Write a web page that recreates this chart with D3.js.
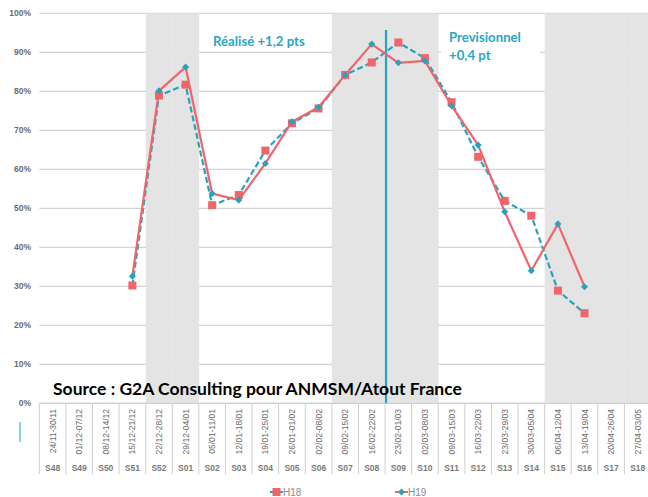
<!DOCTYPE html>
<html>
<head>
<meta charset="utf-8">
<script src="https://cdn.jsdelivr.net/npm/d3@7/dist/d3.min.js"></script>
<style>
  body { margin: 0; background: #fff; }
  svg { display: block; }
</style>
</head>
<body>
<div id="chart"></div>
<script>
var weeks = ["S48","S49","S50","S51","S52","S01","S02","S03","S04","S05","S06","S07","S08","S09","S10","S11","S12","S13","S14","S15","S16","S17","S18"]
var dates = ["24/11-30/11","01/12-07/12","08/12-14/12","15/12-21/12","22/12-28/12","29/12-04/01","05/01-11/01","12/01-18/01","19/01-25/01","26/01-01/02","02/02-08/02","09/02-15/02","16/02-22/02","23/02-01/03","02/03-08/03","09/03-15/03","16/03-22/03","23/03-29/03","30/03-05/04","06/04-12/04","13/04-19/04","20/04-26/04","27/04-03/05"]
var h18 = [null,null,null,0.302,0.789,0.817,0.508,0.534,0.648,0.718,0.756,0.842,0.874,0.925,0.885,0.772,0.632,0.519,0.481,0.289,0.231,null,null]
var h19 = [null,null,null,0.326,0.801,0.862,0.538,0.521,0.615,0.722,0.759,0.842,0.921,0.873,0.878,0.763,0.662,0.491,0.340,0.460,0.299,null,null]
var shaded = ["S52","S01","S07","S08","S09","S10","S15","S16","S17","S18"]
var yTicks = [0,0.1,0.2,0.3,0.4,0.5,0.6,0.7,0.8,0.9,1]

var width = 648, height = 497;
var red = "#f0646c", teal = "#27a3bd";

var svg = d3.select("#chart").append("svg")
  .attr("width", width)
  .attr("height", height);

var x = d3.scaleBand()
  .domain(weeks)
  .range([39.3, 651])
  .padding(0);

var y = d3.scaleLinear()
  .domain([0, 1])
  .range([403.3, 13.3]);

// horizontal gridlines
svg.append("g")
  .selectAll("line")
  .data(yTicks)
  .enter().append("line")
  .attr("x1", 39.3)
  .attr("x2", 651)
  .attr("y1", d => y(d))
  .attr("y2", d => y(d))
  .attr("stroke", "#d3d3d3")
  .attr("stroke-width", 1.2);

// grey week bands (drawn over the grid, like the excel columns)
svg.append("g")
  .selectAll("rect")
  .data(shaded)
  .enter().append("rect")
  .attr("x", d => x(d))
  .attr("y", y(1))
  .attr("width", x.bandwidth() + 0.3)
  .attr("height", y(0) - y(1))
  .attr("fill", "#e4e4e4");

// y axis labels
svg.append("g")
  .selectAll("text")
  .data(yTicks)
  .enter().append("text")
  .attr("x", 31)
  .attr("y", d => y(d) + 3)
  .attr("text-anchor", "end")
  .style("font-family", "Liberation Sans, Arial, sans-serif")
  .style("font-size", "8.5px")
  .style("font-weight", "bold")
  .style("fill", "#6b6b6b")
  .text(d => Math.round(d * 100) + "%");

// category separators (two level axis)
var bounds = weeks.map(d => x(d)).concat([x.range()[1]]);
svg.append("g")
  .selectAll("line")
  .data(bounds)
  .enter().append("line")
  .attr("x1", d => d)
  .attr("x2", d => d)
  .attr("y1", y(0))
  .attr("y2", 474)
  .attr("stroke", "#cfcfcf")
  .attr("stroke-width", 1);

svg.append("line")
  .attr("x1", 39.3).attr("x2", 651)
  .attr("y1", y(0)).attr("y2", y(0))
  .attr("stroke", "#cfcfcf");

svg.append("g")
  .selectAll("text")
  .data(weeks)
  .enter().append("text")
  .attr("transform", (d, i) => "translate(" + (x(d) + x.bandwidth() / 2 + 3) + ",409) rotate(-90)")
  .attr("text-anchor", "end")
  .style("font-family", "Liberation Sans, Arial, sans-serif")
  .style("font-size", "8.5px")
  .style("fill", "#6b6b6b")
  .text((d, i) => dates[i]);

svg.append("g")
  .selectAll("text")
  .data(weeks)
  .enter().append("text")
  .attr("x", d => x(d) + x.bandwidth() / 2)
  .attr("y", 471)
  .attr("text-anchor", "middle")
  .style("font-family", "Liberation Sans, Arial, sans-serif")
  .style("font-size", "8.5px")
  .style("font-weight", "bold")
  .style("fill", "#7a7a7a")
  .text(d => d);

// vertical separator realise / previsionnel
svg.append("line")
  .attr("x1", x("S09") + 1).attr("x2", x("S09") + 1)
  .attr("y1", 30).attr("y2", y(0))
  .attr("stroke", teal)
  .attr("stroke-width", 2.2);

svg.append("line")
  .attr("x1", 20).attr("x2", 20)
  .attr("y1", 422).attr("y2", 442)
  .attr("stroke", "#8fd0de")
  .attr("stroke-width", 2);

// annotation texts
svg.append("rect")
  .attr("x", 441).attr("y", 26)
  .attr("width", 99).attr("height", 40)
  .attr("fill", "#fff");

var ann = svg.append("g")
  .style("font-family", "Lato, sans-serif")
  .style("font-weight", "bold")
  .style("font-size", "13.2px")
  .style("fill", "#2aa6bf");
ann.append("text").attr("x", 213).attr("y", 46).text("Réalisé +1,2 pts");
ann.append("text").attr("x", 449).attr("y", 42).text("Previsionnel");
ann.append("text").attr("x", 449).attr("y", 60).text("+0,4 pt");

svg.append("text")
  .attr("x", 53)
  .attr("y", 395)
  .style("font-family", "Lato, sans-serif")
  .style("font-weight", "bold")
  .style("font-size", "17.5px")
  .style("fill", "#000")
  .text("Source : G2A Consulting pour ANMSM/Atout France");

// series
var cx = (d, i) => x(weeks[i]) + x.bandwidth() / 2;

var line = d3.line()
  .defined(d => d != null)
  .x(cx)
  .y(d => y(d));

svg.append("path")
  .datum(h18)
  .attr("d", line)
  .attr("fill", "none")
  .attr("stroke", teal)
  .attr("stroke-width", 2.2)
  .attr("stroke-dasharray", "6,3");

svg.append("g")
  .selectAll("rect")
  .data(h18.map((v, i) => ({v: v, i: i})).filter(d => d.v != null))
  .enter().append("rect")
  .attr("x", d => cx(d.v, d.i) - 4)
  .attr("y", d => y(d.v) - 4)
  .attr("width", 8)
  .attr("height", 8)
  .attr("fill", red);

svg.append("path")
  .datum(h19)
  .attr("d", line)
  .attr("fill", "none")
  .attr("stroke", red)
  .attr("stroke-width", 2.2);

var diamond = d3.symbol().type(d3.symbolDiamond2).size(32);
svg.append("g")
  .selectAll("path")
  .data(h19.map((v, i) => ({v: v, i: i})).filter(d => d.v != null))
  .enter().append("path")
  .attr("d", diamond)
  .attr("transform", d => "translate(" + cx(d.v, d.i) + "," + y(d.v) + ")")
  .attr("fill", teal);

// legend
var leg = svg.append("g")
  .style("font-family", "Liberation Sans, Arial, sans-serif")
  .style("font-size", "10px")
  .style("fill", "#8a8a8a");

leg.append("line").attr("x1", 270).attr("x2", 283).attr("y1", 492).attr("y2", 492)
  .attr("stroke", teal).attr("stroke-width", 2);
leg.append("rect").attr("x", 272.5).attr("y", 488).attr("width", 8).attr("height", 8).attr("fill", red);
leg.append("text").attr("x", 283).attr("y", 495.5).text("H18");

leg.append("line").attr("x1", 395).attr("x2", 408).attr("y1", 492).attr("y2", 492)
  .attr("stroke", red).attr("stroke-width", 2);
leg.append("path").attr("d", diamond).attr("transform", "translate(401.5,492)").attr("fill", teal);
leg.append("text").attr("x", 408).attr("y", 495.5).text("H19");
</script>
</body>
</html>
